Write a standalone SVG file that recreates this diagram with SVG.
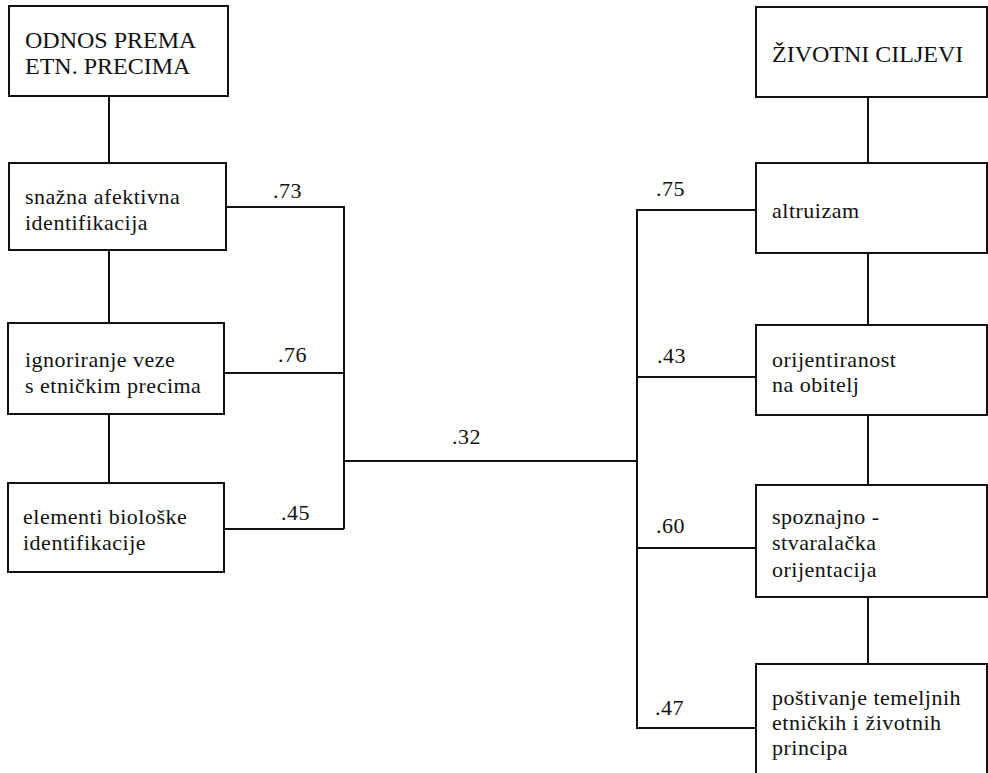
<svg xmlns="http://www.w3.org/2000/svg" width="988" height="773" viewBox="0 0 988 773">
<style>
rect{fill:#fff;stroke:#111;stroke-width:2}
.c path{fill:none;stroke:#111;stroke-width:2}
text{font-family:"Liberation Serif","Times New Roman",serif;fill:#111;font-size:22px;letter-spacing:0.5px}
.h{font-size:24px;letter-spacing:0}
</style>
<rect width="988" height="773" style="stroke:none"/>
<g class="c" id="connectors">
<path d="M109 96V163M109 250V323M109 414V483"/>
<path d="M868 97V163M868 253V325M868 415V485M868 597V664"/>
<path d="M226 207H344V529M224 373H344M224 529H344"/>
<path d="M344 461H637"/>
<path d="M756 210H637V728H756M637 377H756M637 548H756"/>
<text x="273" y="198">.73</text>
<text x="278" y="362">.76</text>
<text x="281" y="520">.45</text>
<text x="452" y="444">.32</text>
<text x="656" y="196">.75</text>
<text x="657" y="363">.43</text>
<text x="656" y="533">.60</text>
<text x="655" y="715">.47</text>
</g>
<g id="odnos">
<rect x="9" y="6" width="219" height="90"/>
<text class="h" x="25" y="48">ODNOS PREMA</text>
<text class="h" x="25" y="74">ETN. PRECIMA</text>
</g>
<g id="snazna">
<rect x="9" y="163" width="217" height="87"/>
<text x="25" y="204">snažna afektivna</text>
<text x="25" y="230">identifikacija</text>
</g>
<g id="ignoriranje">
<rect x="8" y="323" width="216" height="91"/>
<text x="25" y="367">ignoriranje veze</text>
<text x="25" y="393">s etničkim precima</text>
</g>
<g id="elementi">
<rect x="8" y="483" width="216" height="89"/>
<text x="23" y="524">elementi biološke</text>
<text x="23" y="550">identifikacije</text>
</g>
<g id="zivotni">
<rect x="756" y="7" width="231" height="90"/>
<text class="h" x="772" y="62">ŽIVOTNI CILJEVI</text>
</g>
<g id="altruizam">
<rect x="756" y="163" width="231" height="90"/>
<text x="772" y="218">altruizam</text>
</g>
<g id="obitelj">
<rect x="756" y="325" width="231" height="90"/>
<text x="772" y="367">orijentiranost</text>
<text x="772" y="392">na obitelj</text>
</g>
<g id="spoznajno">
<rect x="756" y="485" width="231" height="112"/>
<text x="772" y="524">spoznajno -</text>
<text x="772" y="550">stvaralačka</text>
<text x="772" y="577">orijentacija</text>
</g>
<g id="postivanje">
<rect x="756" y="664" width="231" height="120"/>
<text x="772" y="705">poštivanje temeljnih</text>
<text x="772" y="730">etničkih i životnih</text>
<text x="772" y="755">principa</text>
</g>
</svg>
